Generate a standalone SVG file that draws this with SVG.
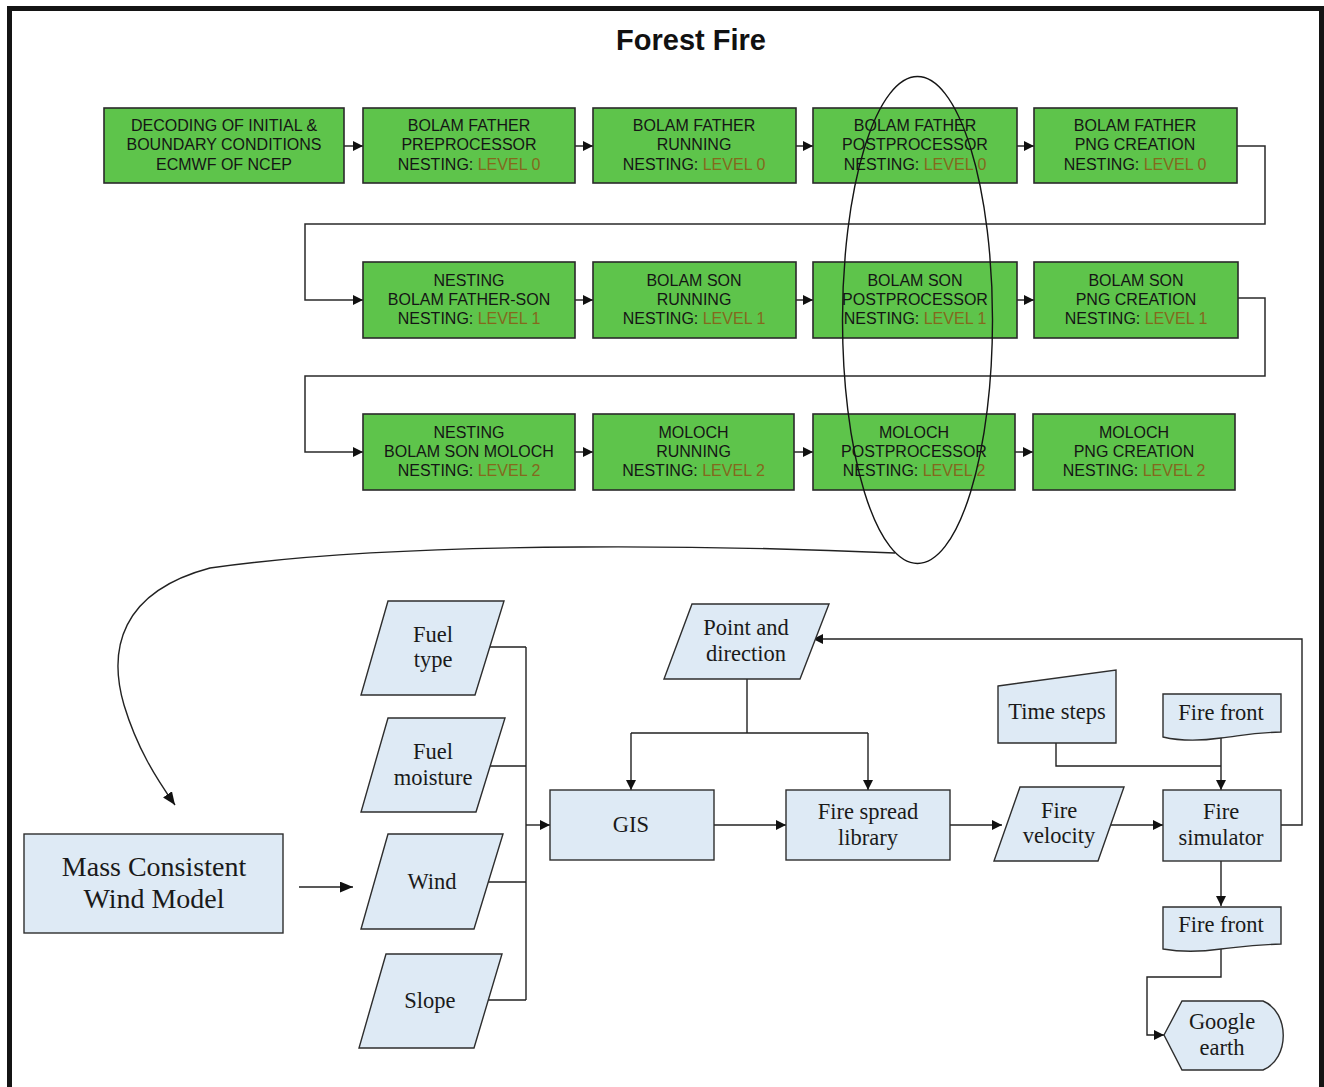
<svg xmlns="http://www.w3.org/2000/svg" width="1324" height="1087" viewBox="0 0 1324 1087">
  <style>
    .frame { fill: none; stroke: #141414; stroke-width: 5; }
    .title { font-family: "Liberation Sans", Arial, sans-serif; font-weight: bold; font-size: 29px; fill: #111; text-anchor: middle; }
    .gbox { fill: #5ec44b; stroke: #2a2a2a; stroke-width: 1.6; }
    .gtxt { font-family: "Liberation Sans", Arial, sans-serif; font-size: 16px; fill: #151515; text-anchor: middle; }
    .lvl { fill: #84691d; }
    .bshape { fill: #deeaf5; stroke: #2e2e2e; stroke-width: 1.4; }
    .btxt { font-family: "Liberation Serif", "Times New Roman", serif; font-size: 22.5px; fill: #1a1a1a; text-anchor: middle; }
    .big { font-size: 28px; }
    .wire { fill: none; stroke: #222; stroke-width: 1.4; }
    .gwire { fill: none; stroke: #2a2a2a; stroke-width: 1.5; }
  </style>
  <defs>
    <marker id="arr" viewBox="0 0 10 10" refX="10" refY="5" markerWidth="10" markerHeight="10" markerUnits="userSpaceOnUse" orient="auto">
      <path d="M0,0 L10,5 L0,10 z" fill="#111"/>
    </marker>
    <marker id="arrBig" viewBox="0 0 12 10" refX="12" refY="5" markerWidth="13" markerHeight="11" markerUnits="userSpaceOnUse" orient="auto">
      <path d="M0,0 L12,5 L0,10 z" fill="#111"/>
    </marker>
  </defs>

  <!-- outer frame (open at the bottom) -->
  <path class="frame" d="M9.5,1092 V8.5 H1321.5 V1092"/>

  <text class="title" x="691" y="50">Forest Fire</text>

  <!-- connectors -->
  <g id="connectors">
    <!-- model chain, row 1 -->
    <path class="gwire" d="M344,146 H363" marker-end="url(#arr)"/>
    <path class="gwire" d="M575,146 H593" marker-end="url(#arr)"/>
    <path class="gwire" d="M796,146 H813" marker-end="url(#arr)"/>
    <path class="gwire" d="M1017,146 H1034" marker-end="url(#arr)"/>
    <path class="gwire" d="M1237,146 H1265 V224 H305 V300 H363" marker-end="url(#arr)"/>
    <!-- row 2 -->
    <path class="gwire" d="M575,300 H593" marker-end="url(#arr)"/>
    <path class="gwire" d="M796,300 H813" marker-end="url(#arr)"/>
    <path class="gwire" d="M1017,300 H1034" marker-end="url(#arr)"/>
    <path class="gwire" d="M1238,298 H1265 V376 H305 V452 H363" marker-end="url(#arr)"/>
    <!-- row 3 -->
    <path class="gwire" d="M575,452 H593" marker-end="url(#arr)"/>
    <path class="gwire" d="M794,452 H813" marker-end="url(#arr)"/>
    <path class="gwire" d="M1015,452 H1033" marker-end="url(#arr)"/>

    <!-- postprocessor outputs feed the wind model -->
    <path class="wire" d="M895,553 C760,547 420,538 210,568 C120,592 108,650 124,705 C137,748 156,778 175,805" marker-end="url(#arrBig)"/>

    <!-- fire simulation flow -->
    <path class="wire" d="M299,887 H353" marker-end="url(#arrBig)"/>
    <path class="wire" d="M490,647 H526 M489,766 H526 M488,882 H526 M487,1000 H526 M526,647 V1000"/>
    <path class="wire" d="M526,825 H550" marker-end="url(#arr)"/>
    <path class="wire" d="M747,679 V733 M631,733 H868"/>
    <path class="wire" d="M631,733 V790" marker-end="url(#arr)"/>
    <path class="wire" d="M868,733 V790" marker-end="url(#arr)"/>
    <path class="wire" d="M714,825 H786" marker-end="url(#arr)"/>
    <path class="wire" d="M950,825 H1002" marker-end="url(#arr)"/>
    <path class="wire" d="M1111,825 H1163" marker-end="url(#arr)"/>
    <path class="wire" d="M1281,825 H1302 V639 H813" marker-end="url(#arr)"/>
    <path class="wire" d="M1056,743 V766 H1221"/>
    <path class="wire" d="M1221,738 V790" marker-end="url(#arr)"/>
    <path class="wire" d="M1221,861 V906" marker-end="url(#arr)"/>
    <path class="wire" d="M1221,949 V977 H1147 V1035 H1164" marker-end="url(#arr)"/>
  </g>

  <!-- row 1 -->
  <g id="decoding">
    <rect class="gbox" x="104" y="108" width="240" height="75"/>
    <text class="gtxt" x="224" y="131">DECODING OF INITIAL &amp;</text>
    <text class="gtxt" x="224" y="150">BOUNDARY CONDITIONS</text>
    <text class="gtxt" x="224" y="170">ECMWF OF NCEP</text>
  </g>
  <g id="father-pre">
    <rect class="gbox" x="363" y="108" width="212" height="75"/>
    <text class="gtxt" x="469" y="131">BOLAM FATHER</text>
    <text class="gtxt" x="469" y="150">PREPROCESSOR</text>
    <text class="gtxt" x="469" y="170">NESTING: <tspan class="lvl">LEVEL 0</tspan></text>
  </g>
  <g id="father-run">
    <rect class="gbox" x="593" y="108" width="203" height="75"/>
    <text class="gtxt" x="694" y="131">BOLAM FATHER</text>
    <text class="gtxt" x="694" y="150">RUNNING</text>
    <text class="gtxt" x="694" y="170">NESTING: <tspan class="lvl">LEVEL 0</tspan></text>
  </g>
  <g id="father-post">
    <rect class="gbox" x="813" y="108" width="204" height="75"/>
    <text class="gtxt" x="915" y="131">BOLAM FATHER</text>
    <text class="gtxt" x="915" y="150">POSTPROCESSOR</text>
    <text class="gtxt" x="915" y="170">NESTING: <tspan class="lvl">LEVEL 0</tspan></text>
  </g>
  <g id="father-png">
    <rect class="gbox" x="1034" y="108" width="203" height="75"/>
    <text class="gtxt" x="1135" y="131">BOLAM FATHER</text>
    <text class="gtxt" x="1135" y="150">PNG CREATION</text>
    <text class="gtxt" x="1135" y="170">NESTING: <tspan class="lvl">LEVEL 0</tspan></text>
  </g>

  <!-- row 2 -->
  <g id="nest-father-son">
    <rect class="gbox" x="363" y="262" width="212" height="76"/>
    <text class="gtxt" x="469" y="286">NESTING</text>
    <text class="gtxt" x="469" y="305">BOLAM FATHER-SON</text>
    <text class="gtxt" x="469" y="324">NESTING: <tspan class="lvl">LEVEL 1</tspan></text>
  </g>
  <g id="son-run">
    <rect class="gbox" x="593" y="262" width="203" height="76"/>
    <text class="gtxt" x="694" y="286">BOLAM SON</text>
    <text class="gtxt" x="694" y="305">RUNNING</text>
    <text class="gtxt" x="694" y="324">NESTING: <tspan class="lvl">LEVEL 1</tspan></text>
  </g>
  <g id="son-post">
    <rect class="gbox" x="813" y="262" width="204" height="76"/>
    <text class="gtxt" x="915" y="286">BOLAM SON</text>
    <text class="gtxt" x="915" y="305">POSTPROCESSOR</text>
    <text class="gtxt" x="915" y="324">NESTING: <tspan class="lvl">LEVEL 1</tspan></text>
  </g>
  <g id="son-png">
    <rect class="gbox" x="1034" y="262" width="204" height="76"/>
    <text class="gtxt" x="1136" y="286">BOLAM SON</text>
    <text class="gtxt" x="1136" y="305">PNG CREATION</text>
    <text class="gtxt" x="1136" y="324">NESTING: <tspan class="lvl">LEVEL 1</tspan></text>
  </g>

  <!-- row 3 -->
  <g id="nest-son-moloch">
    <rect class="gbox" x="363" y="414" width="212" height="76"/>
    <text class="gtxt" x="469" y="438">NESTING</text>
    <text class="gtxt" x="469" y="457">BOLAM SON MOLOCH</text>
    <text class="gtxt" x="469" y="476">NESTING: <tspan class="lvl">LEVEL 2</tspan></text>
  </g>
  <g id="moloch-run">
    <rect class="gbox" x="593" y="414" width="201" height="76"/>
    <text class="gtxt" x="693.5" y="438">MOLOCH</text>
    <text class="gtxt" x="693.5" y="457">RUNNING</text>
    <text class="gtxt" x="693.5" y="476">NESTING: <tspan class="lvl">LEVEL 2</tspan></text>
  </g>
  <g id="moloch-post">
    <rect class="gbox" x="813" y="414" width="202" height="76"/>
    <text class="gtxt" x="914" y="438">MOLOCH</text>
    <text class="gtxt" x="914" y="457">POSTPROCESSOR</text>
    <text class="gtxt" x="914" y="476">NESTING: <tspan class="lvl">LEVEL 2</tspan></text>
  </g>
  <g id="moloch-png">
    <rect class="gbox" x="1033" y="414" width="202" height="76"/>
    <text class="gtxt" x="1134" y="438">MOLOCH</text>
    <text class="gtxt" x="1134" y="457">PNG CREATION</text>
    <text class="gtxt" x="1134" y="476">NESTING: <tspan class="lvl">LEVEL 2</tspan></text>
  </g>

  <!-- postprocessor column highlight -->
  <g id="postproc-ring">
    <ellipse cx="917.5" cy="320" rx="75" ry="243.5" fill="none" stroke="#151515" stroke-width="1.4"/>
  </g>

  <!-- fire simulation -->
  <g id="wind-model">
    <rect class="bshape" x="24" y="834" width="259" height="99"/>
    <text class="btxt big" x="154" y="876">Mass Consistent</text>
    <text class="btxt big" x="154" y="908">Wind Model</text>
  </g>
  <g id="fuel-type">
    <polygon class="bshape" points="388,601 504,601 475,695 361,695"/>
    <text class="btxt" x="433" y="642">Fuel</text>
    <text class="btxt" x="433" y="667">type</text>
  </g>
  <g id="fuel-moisture">
    <polygon class="bshape" points="388,718 505,718 476,812 361,812"/>
    <text class="btxt" x="433" y="759">Fuel</text>
    <text class="btxt" x="433" y="785">moisture</text>
  </g>
  <g id="wind">
    <polygon class="bshape" points="388,834 503,834 474,929 361,929"/>
    <text class="btxt" x="432" y="889">Wind</text>
  </g>
  <g id="slope">
    <polygon class="bshape" points="386,954 502,954 474,1048 359,1048"/>
    <text class="btxt" x="430" y="1008">Slope</text>
  </g>
  <g id="point-direction">
    <polygon class="bshape" points="692,604 829,604 800,679 664,679"/>
    <text class="btxt" x="746" y="635">Point and</text>
    <text class="btxt" x="746" y="661">direction</text>
  </g>
  <g id="gis">
    <rect class="bshape" x="550" y="790" width="164" height="70"/>
    <text class="btxt" x="631" y="832">GIS</text>
  </g>
  <g id="fire-spread">
    <rect class="bshape" x="786" y="790" width="164" height="70"/>
    <text class="btxt" x="868" y="819">Fire spread</text>
    <text class="btxt" x="868" y="845">library</text>
  </g>
  <g id="fire-velocity">
    <polygon class="bshape" points="1020,787 1124,787 1098,861 994,861"/>
    <text class="btxt" x="1059" y="818">Fire</text>
    <text class="btxt" x="1059" y="843">velocity</text>
  </g>
  <g id="time-steps">
    <polygon class="bshape" points="998,686 1116,670 1116,743 998,743"/>
    <text class="btxt" x="1057" y="719">Time steps</text>
  </g>
  <g id="fire-front-in">
    <path class="bshape" d="M1163,694 H1281 V732 C1250,733 1240,736 1221,738 C1200,741 1180,741 1163,737 Z"/>
    <text class="btxt" x="1221" y="720">Fire front</text>
  </g>
  <g id="fire-simulator">
    <rect class="bshape" x="1163" y="790" width="118" height="71"/>
    <text class="btxt" x="1221" y="819">Fire</text>
    <text class="btxt" x="1221" y="845">simulator</text>
  </g>
  <g id="fire-front-out">
    <path class="bshape" d="M1163,907 H1281 V944 C1250,945 1240,947 1221,949 C1200,952 1180,952 1163,949 Z"/>
    <text class="btxt" x="1221" y="932">Fire front</text>
  </g>
  <g id="google-earth">
    <path class="bshape" d="M1164,1035 L1182,1001 H1263 C1290,1012 1290,1059 1263,1070 H1182 Z"/>
    <text class="btxt" x="1222" y="1029">Google</text>
    <text class="btxt" x="1222" y="1055">earth</text>
  </g>
</svg>
